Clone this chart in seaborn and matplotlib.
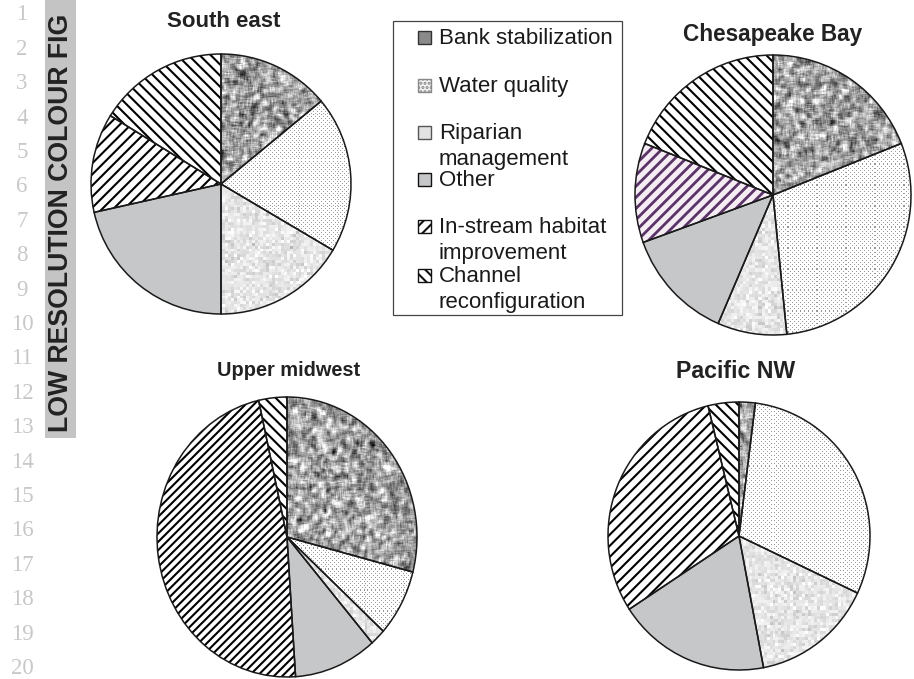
import numpy as np
import matplotlib
matplotlib.use("Agg")
import matplotlib.pyplot as plt
from matplotlib.patches import Rectangle, Wedge
import seaborn as sns

# --- data (percent of restoration projects by goal) ---
categories = ["Bank stabilization", "Water quality", "Riparian management",
              "Other", "In-stream habitat improvement", "Channel reconfiguration"]
legend_labels = ["Bank stabilization", "Water quality", "Riparian\nmanagement",
                 "Other", "In-stream habitat\nimprovement", "Channel\nreconfiguration"]
regions = ["South east", "Chesapeake Bay", "Upper midwest", "Pacific NW"]
south_east = [14.0, 19.5, 16.5, 21.5, 12.3, 16.2]
chesapeake_bay = [19.0, 29.4, 8.1, 13.0, 11.5, 19.0]
upper_midwest = [29.0, 7.7, 1.9, 10.3, 47.5, 3.5]
pacific_nw = [2.0, 30.0, 15.0, 18.8, 30.4, 3.8]
region_values = [south_east, chesapeake_bay, upper_midwest, pacific_nw]

line_numbers = ["1", "2", "3", "4", "5", "6", "7", "8", "9", "10",
                "11", "12", "13", "14", "15", "16", "17", "18", "19", "20"]
banner_text = "LOW RESOLUTION COLOUR FIG"

W, H = 914, 679

sns.set_theme(style="white")
plt.rcParams["font.family"] = ["Liberation Sans", "DejaVu Sans"]
plt.rcParams["hatch.linewidth"] = 1.5


def fx(x):
    return x / W


def fy(y):
    return 1 - y / H


# pixel layout of each pie (centre, radii) and its title
pie_layout = {
    "South east": dict(cx=221, cy=184, rx=130, ry=130, tx=224, ty=27, ts=16),
    "Chesapeake Bay": dict(cx=773, cy=195, rx=138, ry=140, tx=773, ty=41, ts=16.3),
    "Upper midwest": dict(cx=287, cy=537, rx=130, ry=140, tx=289, ty=376, ts=14.4),
    "Pacific NW": dict(cx=739, cy=536, rx=131, ry=134, tx=736, ty=378, ts=16.7),
}
# (in-stream hatch, channel hatch, in-stream line colour, in-stream gap colour)
hatch_styles = {
    "South east": ("///", "\\\\\\", "black", "white"),
    "Chesapeake Bay": ("///", "\\\\\\", "#5a3468", "#f6ecf3"),
    "Upper midwest": ("////", "\\\\\\", "black", "white"),
    "Pacific NW": ("///", "\\\\\\", "black", "white"),
}
other_grey = "#c6c7c9"

# --- fill textures (scanned print look) ---
rng = np.random.default_rng(7)


def blur(a, k):
    out = np.zeros_like(a)
    for dy in range(-k, k + 1):
        for dx in range(-k, k + 1):
            out += np.roll(np.roll(a, dy, 0), dx, 1)
    return out / (2 * k + 1) ** 2


def speckle(size, mean, spread, k, block=1):
    a = rng.normal(size=(size // block + 1, size // block + 1))
    a = np.kron(a, np.ones((block, block)))[:size, :size]
    a = blur(a, k)
    a = (a - a.mean()) / a.std()
    return np.clip(mean + spread * a, 0, 1)


def dots(size, step, shade):
    a = np.ones((size, size))
    a[::step, ::step] = shade
    a[step // 2::step, step // 2::step] = shade
    return a


fig = plt.figure(figsize=(W / 100, H / 100), dpi=100)

for region, values in zip(regions, region_values):
    lay = pie_layout[region]
    cx, cy, rx, ry = lay["cx"], lay["cy"], lay["rx"], lay["ry"]
    ax = fig.add_axes([fx(cx - 1.25 * rx), fy(cy + 1.25 * ry),
                       2.5 * rx / W, 2.5 * ry / H])
    h_in, h_ch, h_col, h_gap = hatch_styles[region]
    wedges, _ = ax.pie(values, startangle=90, counterclock=False,
                       colors=["#8a8a8a", "#f4f4f4", "#e8e8e8", other_grey, h_gap, "white"],
                       wedgeprops=dict(linewidth=0))

    textures = {
        0: speckle(280, 0.64, 0.15, 2),
        1: dots(280, 4, 0.6),
        2: speckle(280, 0.9, 0.05, 0, block=3),
    }
    for i, tex in textures.items():
        im = ax.imshow(tex, cmap="gray", vmin=0, vmax=1, extent=(-1.05, 1.05, -1.05, 1.05),
                       interpolation="nearest", aspect="auto", zorder=2)
        im.set_clip_path(wedges[i])

    wedges[4].set_edgecolor(h_col)
    wedges[4].set_hatch(h_in)
    wedges[5].set_edgecolor("black")
    wedges[5].set_hatch(h_ch)
    if h_col != "black" and hasattr(wedges[4], "set_hatch_linewidth"):
        wedges[4].set_hatch_linewidth(2.0)

    for w in wedges:
        ax.add_patch(Wedge(w.center, w.r, w.theta1, w.theta2, fill=False,
                           edgecolor="#1a1a1a", linewidth=1.1, zorder=3))

    ax.set_xlim(-1.25, 1.25)
    ax.set_ylim(-1.25, 1.25)
    ax.set_aspect("auto")
    ax.axis("off")

    fig.text(fx(lay["tx"]), fy(lay["ty"]), region, ha="center", va="baseline",
             fontsize=lay["ts"], fontweight="bold", color="#222222")

# --- legend box drawn by hand (entries overlap like the original) ---
fig.patches.append(Rectangle((fx(393), fy(315)), (622 - 393) / W, (315 - 21) / H,
                             transform=fig.transFigure, facecolor="white",
                             edgecolor="#444444", linewidth=0.9, zorder=1))
marker_styles = [
    dict(facecolor="#8a8a8a", edgecolor="#333333"),
    dict(facecolor="#f2f2f2", edgecolor="#888888", hatch="...."),
    dict(facecolor="#e2e2e2", edgecolor="#555555"),
    dict(facecolor=other_grey, edgecolor="#111111"),
    dict(facecolor="white", edgecolor="#111111", hatch="///"),
    dict(facecolor="white", edgecolor="#111111", hatch="\\\\\\"),
]
baselines = [44, 92, 139, 186, 233, 282]
for label, base, style in zip(legend_labels, baselines, marker_styles):
    fig.patches.append(Rectangle((fx(418), fy(base)), 13 / W, 13 / H,
                                 transform=fig.transFigure, linewidth=1.0,
                                 zorder=2, **style))
    for k, line in enumerate(label.split("\n")):
        fig.text(fx(439), fy(base + 26.5 * k), line, ha="left", va="baseline",
                 fontsize=16, color="#1a1a1a")

# --- page furniture: line numbers and low-res banner ---
for i, num in enumerate(line_numbers):
    fig.text(fx(22), fy(15 + 34.4 * i), num, ha="center", va="center",
             family=["Liberation Serif", "DejaVu Serif"], fontsize=16.5, color="#c8c8c8")

fig.patches.append(Rectangle((fx(45), fy(438)), (76 - 45) / W, 438 / H,
                             transform=fig.transFigure, facecolor="#c4c4c4",
                             edgecolor="none", zorder=1))
fig.text(fx(61), fy(223), banner_text, rotation=90, ha="center", va="center",
         fontsize=19.2, fontweight="bold", color="#222222")

fig.savefig("out.png", dpi=100)
